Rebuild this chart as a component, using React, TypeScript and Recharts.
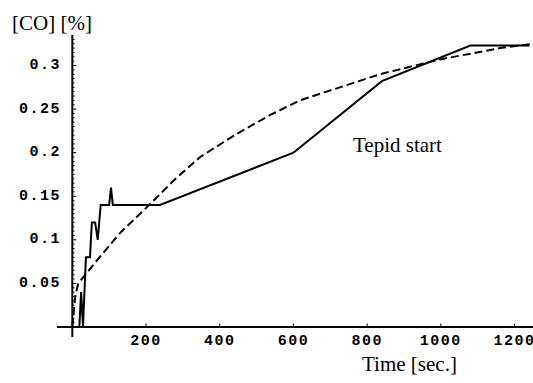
import { LineChart, Line, XAxis, YAxis, ReferenceLine } from "recharts";

// measured CO concentration (solid)
const solidTime = [19, 24, 29, 37, 48, 53, 62, 69, 77, 100, 105, 110, 238, 600, 840, 1080, 1240];
const solidCO = [0, 0.04, 0, 0.08, 0.08, 0.12, 0.12, 0.1, 0.14, 0.14, 0.16, 0.14, 0.14, 0.2, 0.282, 0.323, 0.323];

// model curve (dashed)
const dashedTime = [0, 8, 16, 72, 130, 211, 280, 347, 440, 536, 618, 690, 835, 998, 1161, 1250];
const dashedCO = [0, 0.035, 0.05, 0.079, 0.108, 0.141, 0.17, 0.195, 0.22, 0.243, 0.26, 0.27, 0.29, 0.307, 0.32, 0.325];

const xTicks = [200, 400, 600, 800, 1000, 1200];
const yTicks = [0.05, 0.1, 0.15, 0.2, 0.25, 0.3];
const yTickLabels = ["0.05", "0.1", "0.15", "0.2", "0.25", "0.3"];

const solidData = solidTime.map((t, i) => ({ t, v: solidCO[i] }));
const dashedData = dashedTime.map((t, i) => ({ t, v: dashedCO[i] }));

// small ruler marks along the y axis, every 0.005
const minorY: number[] = [];
for (let k = 1; k <= 66; k++) minorY.push(+(k * 0.005).toFixed(3));

const serif = '"Liberation Serif", "Times New Roman", serif';
const mono = '"Liberation Mono", "Courier New", monospace';

export default function App() {
  return (
    <div style={{ position: "absolute", left: 0, top: 0, width: 533, height: 383, background: "#fff" }}>
      <LineChart width={533} height={383} margin={{ top: 35, right: 0, left: 0, bottom: 0 }}>
        <XAxis
          type="number"
          dataKey="t"
          domain={[-41.5, 1250]}
          ticks={xTicks}
          allowDataOverflow
          axisLine={false}
          tickLine={false}
          tickSize={0}
          tickMargin={0}
          height={46}
          tick={(p: any) => (
            <text x={p.x} y={p.y + 4} textAnchor="middle" dominantBaseline="central"
              fontFamily={mono} fontSize={15} fontWeight="bold" letterSpacing={1.5} fill="#000">
              {p.payload.value}
            </text>
          )}
        />
        <YAxis
          type="number"
          domain={[-0.0115, 0.335]}
          ticks={yTicks}
          allowDataOverflow
          axisLine={false}
          tickLine={false}
          tickSize={0}
          tickMargin={0}
          width={57}
          tick={(p: any) => (
            <text x={p.x + 4} y={p.y} textAnchor="end" dominantBaseline="central"
              fontFamily={mono} fontSize={15} fontWeight="bold" letterSpacing={1.5} fill="#000">
              {yTickLabels[p.index]}
            </text>
          )}
        />
        <ReferenceLine x={0} stroke="#000" strokeWidth={2} />
        <ReferenceLine y={0} stroke="#000" strokeWidth={2} />
        {minorY.map((v) => (
          <ReferenceLine
            key={"my" + v}
            segment={[{ x: 0, y: v }, { x: Math.round(v * 1000) % 50 === 0 ? 11 : 6, y: v }]}
            stroke="#000"
            strokeWidth={1}
          />
        ))}
        {xTicks.map((v) => (
          <ReferenceLine key={"mx" + v} segment={[{ x: v, y: 0 }, { x: v, y: 0.004 }]} stroke="#000" strokeWidth={1} />
        ))}
        <Line data={dashedData} dataKey="v" type="linear" stroke="#000" strokeWidth={2}
          strokeDasharray="8 4" dot={false} isAnimationActive={false} />
        <Line data={solidData} dataKey="v" type="linear" stroke="#000" strokeWidth={2}
          dot={false} isAnimationActive={false} />
      </LineChart>
      <div style={{ position: "absolute", left: 12, top: 11, fontFamily: serif, fontSize: 21, lineHeight: "24px", whiteSpace: "nowrap" }}>
        [CO] [%]
      </div>
      <div style={{ position: "absolute", left: 353, top: 133, fontFamily: serif, fontSize: 21, lineHeight: "24px", whiteSpace: "nowrap" }}>
        Tepid start
      </div>
      <div style={{ position: "absolute", left: 362, top: 352, fontFamily: serif, fontSize: 21, lineHeight: "24px", whiteSpace: "nowrap" }}>
        Time [sec.]
      </div>
    </div>
  );
}
